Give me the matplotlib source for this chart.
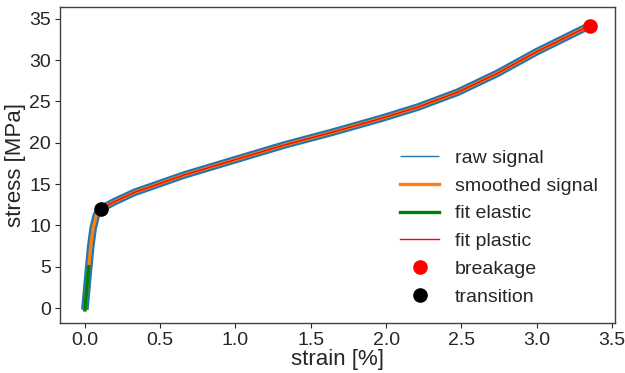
import numpy as np
import matplotlib
matplotlib.use("Agg")
from matplotlib import pyplot as plt

# Data -----------------------------------------------------------------------
# elastic fit
elastic_strain = [0.0, 0.026]
elastic_stress = [-0.2, 5.0]

# smoothed signal (strain [%], stress [MPa])
smooth_strain = [0.0, 0.013, 0.026, 0.04, 0.055, 0.077, 0.106,
                 0.2, 0.33, 0.66, 0.99, 1.32, 1.65, 1.97,
                 2.21, 2.475, 2.74, 3.0, 3.267, 3.351]
smooth_stress = [-0.2, 2.4, 5.0, 7.6, 9.65, 11.3, 12.0,
                 12.9, 14.0, 16.1, 17.9, 19.7, 21.3, 22.95,
                 24.3, 26.1, 28.4, 31.0, 33.4, 34.15]

# plastic fit, from the transition point up to breakage
plastic_strain = smooth_strain[6:]
plastic_stress = smooth_stress[6:]

transition = (0.106, 12.0)
breakage = (3.351, 34.15)
# -------------------------------------------------------------------------------

plt.rcParams['font.family'] = ['Liberation Sans', 'DejaVu Sans']
plt.rcParams['font.size'] = 14
text_c = '#262626'

fig = plt.figure(figsize=(6.25, 3.73), dpi=100)
ax = fig.add_axes([0.096, 0.134, 0.888, 0.847])

ax.plot(smooth_strain, smooth_stress, color='#1f77b4', lw=5.5,
        label='raw signal', solid_capstyle='butt')
ax.plot(smooth_strain, smooth_stress, color='#ff7f0e', lw=2.4, label='smoothed signal')
ax.plot(elastic_strain, elastic_stress, color='green', lw=2.4, label='fit elastic')
ax.plot(plastic_strain, plastic_stress, color='red', lw=1.0, label='fit plastic')
ax.plot(*breakage, 'o', color='red', ms=9.5, label='breakage', zorder=5)
ax.plot(*transition, 'o', color='black', ms=9.5, label='transition', zorder=5)

ax.set_xlim(-0.165, 3.52)
ax.set_ylim(-1.8, 36.4)
ax.set_xticks(np.arange(0, 3.51, 0.5))
ax.set_yticks(np.arange(0, 36, 5))
ax.set_xlabel('strain [%]', color=text_c, labelpad=0, fontsize=16)
ax.set_ylabel('stress [MPa]', color=text_c, labelpad=2, fontsize=16)
ax.tick_params(colors=text_c, length=3.5, width=0.8, pad=3)
for sp in ax.spines.values():
    sp.set_color('#404040')
    sp.set_linewidth(1.0)

leg = ax.legend(loc='lower right', frameon=False, bbox_to_anchor=(1.0, 0.0),
                labelspacing=0.52, handletextpad=0.8)
leg.get_lines()[0].set_linewidth(1.0)
for t in leg.get_texts():
    t.set_color(text_c)

fig.savefig('out.png', dpi=100)
